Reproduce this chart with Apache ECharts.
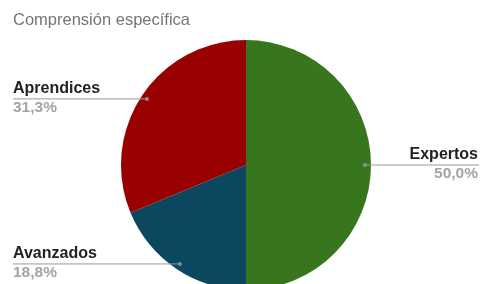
<!DOCTYPE html>
<html><head><meta charset="utf-8">
<script src="https://cdn.jsdelivr.net/npm/echarts@6/dist/echarts.min.js"></script>
<style>html,body{margin:0;padding:0;background:#fff}#c{width:481px;height:284px}</style>
</head><body><div id="c"></div>
<script>
const title = 'Comprensión específica';
const categories = ['Expertos', 'Avanzados', 'Aprendices'];
const values = [8, 3, 5];
const percentLabels = ['50,0%', '18,8%', '31,3%'];
const colors = ['#38761d', '#0c4760', '#990000'];

const chart = echarts.init(document.getElementById('c'), null, {renderer: 'canvas'});
const W = 481;
const cx = 246, cy = 165, R = 125, RA = 119;
const total = values.reduce((a, b) => a + b, 0);
const data = categories.map((n, i) => ({name: n, value: values[i], itemStyle: {color: colors[i]}}));
const labelData = categories.map((n, i) => ({name: n, value: values[i], pct: percentLabels[i]}));
let acc = 0;
const dotData = values.map(v => { const m = acc + v / 2; acc += v; return [RA, m]; });
const font = 'Arial, "Liberation Sans", sans-serif';

chart.setOption({
  animation: false,
  title: {text: title, left: 8, top: 7, textStyle: {fontFamily: font, fontSize: 16.5, fontWeight: 'normal', color: '#757575'}},
  polar: {center: [cx, cy], radius: R},
  angleAxis: {type: 'value', min: 0, max: total, startAngle: 90, clockwise: true, show: false},
  radiusAxis: {type: 'value', min: 0, max: R, show: false},
  series: [
    {
      type: 'pie', center: [cx, cy], radius: R, startAngle: 90, clockwise: true, z: 1,
      data: data, label: {show: false}, labelLine: {show: false}, silent: true
    },
    {
      type: 'pie', center: [cx, cy], radius: RA, startAngle: 90, clockwise: true, z: 5,
      data: labelData, itemStyle: {color: 'rgba(0,0,0,0)'}, silent: true,
      label: {
        show: true, position: 'outside',
        formatter: p => '{n|' + p.name + '}\n{v|' + p.data.pct + '}',
        rich: {
          n: {fontFamily: font, fontSize: 16, fontWeight: 'bold', color: '#222222', lineHeight: 19, padding: [0, 0, 1, 0]},
          v: {fontFamily: font, fontSize: 15.5, fontWeight: 'bold', color: '#a3a3a3', lineHeight: 17}
        }
      },
      labelLine: {show: true, length: 0, length2: 10, lineStyle: {color: '#999999', width: 1}},
      labelLayout: function (p) {
        const a = p.labelLinePoints ? p.labelLinePoints[0] : [p.labelRect.x, p.labelRect.y];
        const left = a[0] < cx;
        const ex = left ? 13 : W - 2;
        return {
          x: left ? 13 : W - 3, y: a[1] - 1, align: left ? 'left' : 'right', verticalAlign: 'middle',
          labelLinePoints: [[a[0], a[1]], [a[0], a[1]], [ex, a[1]]]
        };
      }
    },
    {
      type: 'scatter', coordinateSystem: 'polar', z: 6, silent: true,
      symbolSize: 4, itemStyle: {color: '#9e9e9e'}, data: dotData
    }
  ]
});
</script></body></html>
